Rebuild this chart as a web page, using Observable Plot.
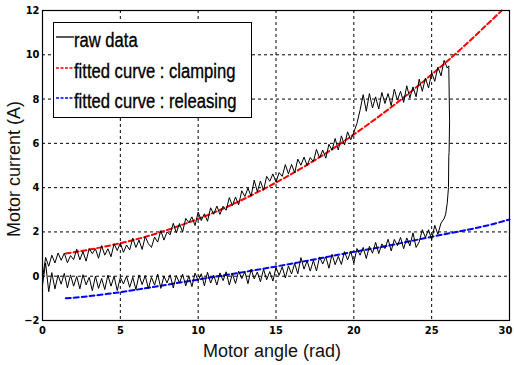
<!DOCTYPE html>
<html>
<head>
<meta charset="utf-8">
<script src="https://cdn.jsdelivr.net/npm/d3@7"></script>
<script src="https://cdn.jsdelivr.net/npm/@observablehq/plot@0.6"></script>
<style>
  html, body { margin: 0; padding: 0; background: #fff; }
  #wrap { position: relative; width: 514px; height: 365px; overflow: hidden; }
  #wrap > svg { position: absolute; left: 0; top: 0; }
  .lbl { position: absolute; font-family: "Liberation Sans", Arial, sans-serif; font-size: 18px; line-height: 21px; color: #111; white-space: nowrap; }
  #legend { position: absolute; left: 53px; top: 22px; width: 197px; height: 94px; border: 1px solid #000; background: #fff;
            font-family: "Liberation Sans", Arial, sans-serif; font-size: 20px; line-height: 20px; color: #000; }
  #legend .txt { position: absolute; left: 20px; white-space: nowrap; transform: scaleX(0.83); transform-origin: left center;
                 -webkit-text-stroke: 0.35px #000; }
  #legend svg.sample { position: absolute; left: 2px; }
</style>
</head>
<body>
<div id="wrap"></div>
<script>
// ---- data ----
const xTicks = [0, 5, 10, 15, 20, 25, 30];
const yTicks = [-2, 0, 2, 4, 6, 8, 10, 12];

// raw data, clamping phase (angle rad, current A)
const rawClamping = [
  [0.0,-0.1],[0.2,0.85],[0.4,0.45],[0.6,0.95],[0.8,0.6],[1.0,1.05],[1.2,0.72],[1.4,1.04],[1.6,0.61],[1.8,0.93],
  [2.0,0.75],[2.2,1.22],[2.4,0.74],[2.6,1.11],[2.8,0.68],[3.0,1.25],[3.2,1.02],[3.4,1.24],[3.6,0.81],[3.8,1.38],
  [4.0,0.95],[4.2,1.24],[4.4,0.88],[4.6,1.47],[4.8,1.16],[5.0,1.5],[5.2,1.08],[5.4,1.41],[5.6,1.19],[5.8,1.72],
  [6.0,1.3],[6.2,1.63],[6.4,1.21],[6.6,1.79],[6.8,1.47],[7.0,1.3],[7.2,1.77],[7.4,1.54],[7.6,2.06],[7.8,1.63],
  [8.0,2.0],[8.2,1.87],[8.4,2.39],[8.6,1.96],[8.8,2.38],[9.0,2.0],[9.2,2.61],[9.4,2.42],[9.6,2.68],[9.8,2.29],
  [10.0,2.9],[10.2,2.51],[10.4,2.82],[10.6,2.48],[10.8,3.09],[11.0,2.8],[11.2,3.17],[11.4,2.79],[11.6,3.16],[11.8,2.98],
  [12.0,3.55],[12.2,3.19],[12.4,3.58],[12.6,3.22],[12.8,3.86],[13.0,3.6],[13.2,3.98],[13.4,3.61],[13.6,4.34],[13.8,3.82],
  [14.0,4.3],[14.2,3.88],[14.4,4.51],[14.6,4.29],[14.8,4.62],[15.0,4.25],[15.2,4.68],[15.4,4.51],[15.6,5.04],[15.8,4.62],
  [16.0,5.05],[16.2,4.67],[16.4,5.29],[16.6,5.01],[16.8,5.38],[17.0,5.0],[17.2,5.36],[17.4,5.17],[17.6,5.73],[17.8,5.34],
  [18.0,5.7],[18.2,5.33],[18.4,5.96],[18.6,5.69],[18.8,6.22],[19.0,5.7],[19.2,6.34],[19.4,5.93],[19.6,6.52],[19.8,6.16],
  [20.0,6.5],[20.2,6.9],[20.4,7.5],[20.6,8.2],[20.8,7.45],[21.0,8.25],[21.2,7.6],[21.4,8.1],[21.6,7.55],[21.8,8.3],
  [22.0,7.8],[22.2,8.25],[22.4,7.7],[22.6,8.45],[22.8,7.95],[23.0,8.35],[23.2,7.85],[23.4,8.6],[23.6,8.05],[23.8,8.55],
  [24.0,8.1],[24.2,8.9],[24.4,8.35],[24.6,8.95],[24.8,8.5],[25.0,9.2],[25.2,8.8],[25.4,9.45],[25.6,9.05],[25.8,9.75],
  [26.0,9.4]
];
// raw data, fast drop at the end of the stroke
const rawDrop = [
  [26.1,9.5],[26.15,7.0],[26.12,5.6],[26.1,5.4],[26.08,4.0],[26.0,3.3],[25.9,2.8],[25.8,2.6]
];
// raw data, releasing phase
const rawReleasing = [
  [25.6,2.4],[25.4,1.9],[25.2,2.3],[25.0,1.65],[24.8,2.1],[24.6,1.75],[24.4,2.1],[24.2,1.55],[24.0,1.3],[23.8,1.96],
  [23.6,1.37],[23.4,1.73],[23.2,1.24],[23.0,1.75],[22.8,1.38],[22.6,1.66],[22.4,1.14],[22.2,1.67],[22.0,1.25],[21.8,1.46],
  [21.6,1.02],[21.4,1.53],[21.2,1.04],[21.0,1.35],[20.8,0.8],[20.6,1.3],[20.4,0.95],[20.2,1.25],[20.0,0.6],[19.8,1.12],
  [19.6,0.74],[19.4,1.11],[19.2,0.53],[19.0,0.9],[18.8,0.52],[18.6,0.99],[18.4,0.36],[18.2,0.88],[18.0,0.55],[17.8,0.87],
  [17.6,0.24],[17.4,0.71],[17.2,0.23],[17.0,0.7],[16.8,0.32],[16.6,0.84],[16.4,0.11],[16.2,0.58],[16.0,0.1],[15.8,0.46],
  [15.6,-0.08],[15.4,0.43],[15.2,0.04],[15.0,0.4],[14.8,-0.22],[14.6,0.21],[14.4,-0.16],[14.2,0.32],[14.0,-0.25],[13.8,0.19],
  [13.6,-0.12],[13.4,0.32],[13.2,-0.34],[13.0,0.2],[12.8,-0.11],[12.6,0.23],[12.4,-0.33],[12.2,0.11],[12.0,-0.4],[11.8,0.2],
  [11.6,-0.2],[11.4,0.15],[11.2,-0.4],[11.0,0.05],[10.8,-0.31],[10.6,0.18],[10.4,-0.43],[10.2,0.11],[10.0,-0.2],[9.8,0.14],
  [9.6,-0.47],[9.4,0.02],[9.2,-0.44],[9.0,0.1],[8.8,-0.31],[8.6,0.03],[8.4,-0.53],[8.2,0.06],[8.0,-0.3],[7.8,0.0],
  [7.6,-0.55],[7.4,0.1],[7.2,-0.4],[7.0,-0.05],[6.8,-0.56],[6.6,0.03],[6.4,-0.38],[6.2,0.06],[6.0,-0.6],[5.8,-0.05],
  [5.6,-0.5],[5.4,0.0],[5.2,-0.35],[5.0,-0.05],[4.8,-0.65],[4.6,0.0],[4.4,-0.45],[4.2,0.05],[4.0,-0.6],[3.8,-0.1],
  [3.6,-0.55],[3.4,0.0],[3.2,-0.65],[3.0,-0.05],[2.8,-0.39],[2.6,0.07],[2.4,-0.57],[2.2,-0.01],[2.0,-0.45],[1.8,0.06],
  [1.6,-0.53],[1.4,0.13],[1.2,-0.36],[1.0,0.05],[0.8,-0.57],[0.6,0.16],[0.4,-0.7],[0.2,0.6],[0.0,-0.4]
];
// fitted curves
const fitClampAngle   = [1.5, 3, 5, 7, 9, 11, 13, 15, 17, 19, 21, 23, 25, 27, 29.5];
const fitClampCurrent = [1.03, 1.20, 1.49, 1.86, 2.33, 2.87, 3.51, 4.23, 5.03, 5.92, 6.90, 7.96, 9.11, 10.34, 12.0];
const fitReleaseAngle   = [1.5, 3, 5, 7, 10, 12, 15, 18, 20, 22, 25, 28, 30];
const fitReleaseCurrent = [-1.0, -0.9, -0.72, -0.5, -0.15, 0.08, 0.44, 0.83, 1.1, 1.35, 1.78, 2.2, 2.56];

const legendItems = [
  {label: "raw data", color: "#000", dash: null},
  {label: "fitted curve : clamping", color: "#ff0000", dash: "3,1.5"},
  {label: "fitted curve : releasing", color: "#0000ff", dash: "3,1.5"}
];

// ---- build ----
const raw = rawClamping.concat(rawDrop, rawReleasing);
const fitClamp = fitClampAngle.map((a, i) => ({a, c: fitClampCurrent[i]}));
const fitRelease = fitReleaseAngle.map((a, i) => ({a, c: fitReleaseCurrent[i]}));
const tickFont = {fontSize: 11, fontWeight: "bold", fontFamily: "'Liberation Sans Narrow', 'DejaVu Sans Condensed', 'Arial Narrow', 'Liberation Sans', sans-serif"};

const chart = Plot.plot({
  width: 514,
  height: 365,
  marginLeft: 42,
  marginRight: 5,
  marginTop: 10,
  marginBottom: 45,
  style: {fontSize: "11px", color: "#000", background: "#fff"},
  x: {domain: [0, 30], ticks: xTicks},
  y: {domain: [-2, 12], ticks: yTicks},
  marks: [
    Plot.gridX(xTicks.slice(1, -1), {stroke: "#000", strokeOpacity: 1, strokeDasharray: "3,3", strokeWidth: 1}),
    Plot.gridY(yTicks.slice(1, -1), {stroke: "#000", strokeOpacity: 1, strokeDasharray: "3,3", strokeWidth: 1}),
    Plot.line(fitClamp, {x: "a", y: "c", stroke: "#ff0000", strokeWidth: 2, strokeDasharray: "5,3", curve: "natural"}),
    Plot.line(fitRelease, {x: "a", y: "c", stroke: "#0000ff", strokeWidth: 2, strokeDasharray: "5,3", curve: "natural"}),
    Plot.line(raw, {x: d => d[0], y: d => d[1], stroke: "#000", strokeWidth: 1}),
    Plot.frame({stroke: "#000", strokeWidth: 1.2}),
    Plot.axisX(xTicks.slice(0, -1), {tickSize: 0, tickPadding: 6, label: null, ...tickFont}),
    Plot.axisX(xTicks.slice(-1), {tickSize: 0, tickPadding: 6, label: null, dx: -4, ...tickFont}),
    Plot.axisY(yTicks, {tickSize: 0, tickPadding: 3, label: null, ...tickFont})
  ]
});

const wrap = document.getElementById("wrap");
wrap.appendChild(chart);

const xl = document.createElement("div");
xl.className = "lbl";
xl.textContent = "Motor angle (rad)";
xl.style.left = "0px"; xl.style.width = "544px"; xl.style.textAlign = "center";
xl.style.top = "341px";
wrap.appendChild(xl);

const yl = document.createElement("div");
yl.className = "lbl";
yl.textContent = "Motor current (A)";
yl.style.left = "14px"; yl.style.top = "169px";
yl.style.transform = "translate(-50%, -50%) rotate(-90deg)";
wrap.appendChild(yl);

const lg = document.createElement("div");
lg.id = "legend";
const rowTops = [7, 38, 68];
legendItems.forEach((it, i) => {
  const s = d3.create("svg").attr("class", "sample").attr("width", 18).attr("height", 6)
    .style("top", (rowTops[i] + 4) + "px");
  s.append("line").attr("x1", 0).attr("x2", 18).attr("y1", 3).attr("y2", 3)
    .attr("stroke", it.color).attr("stroke-width", it.dash ? 1.5 : 1.3)
    .attr("stroke-dasharray", it.dash);
  lg.appendChild(s.node());
  const t = document.createElement("div");
  t.className = "txt";
  t.style.top = rowTops[i] + "px";
  t.textContent = it.label;
  lg.appendChild(t);
});
wrap.appendChild(lg);
</script>
</body>
</html>
